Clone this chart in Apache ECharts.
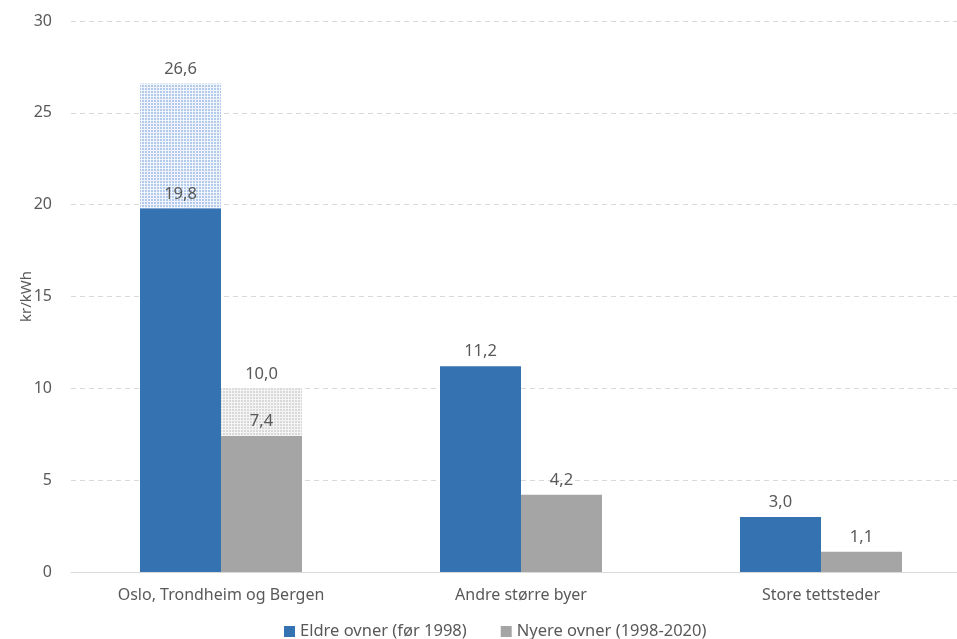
<!DOCTYPE html>
<html><head><meta charset="utf-8">
<script src="https://cdn.jsdelivr.net/npm/echarts@6/dist/echarts.min.js"></script>
<style>html,body{margin:0;padding:0;background:#fff}#c{width:957px;height:639px}</style>
</head><body><div id="c"></div>
<script>
const categories = ['Oslo, Trondheim og Bergen', 'Andre større byer', 'Store tettsteder'];
const eldreSolid = [19.8, 11.2, 3.0];
const eldreTotal = [26.6, null, null];
const nyereSolid = [7.4, 4.2, 1.1];
const nyereTotal = [10.0, null, null];
const yTicks = [0, 5, 10, 15, 20, 25, 30];
const seriesNames = ['Eldre ovner (før 1998)', 'Nyere ovner (1998-2020)'];

function pattern(bg, dot) {
  const c = document.createElement('canvas');
  c.width = 3; c.height = 3;
  const g = c.getContext('2d');
  g.fillStyle = bg; g.fillRect(0, 0, 3, 3);
  g.fillStyle = dot;
  g.fillRect(0, 0, 1, 3);
  g.fillRect(0, 0, 3, 1);
  return {image: c, repeat: 'repeat'};
}
const fmt = v => (v == null ? '' : Number(v).toFixed(1).replace('.', ','));
const font = 'Noto Sans';
const txt = '#595959';
const blue = '#3572B2';
const gray = '#A5A5A5';

const eldreHatch = eldreTotal.map((t, i) => t == null ? null : +(t - eldreSolid[i]).toFixed(2));
const nyereHatch = nyereTotal.map((t, i) => t == null ? null : +(t - nyereSolid[i]).toFixed(2));

const chart = echarts.init(document.getElementById('c'), null, {renderer: 'canvas'});
const labelStyle = {show: true, position: 'top', color: txt, fontFamily: font, fontSize: 16.5, distance: 6};
chart.setOption({
  animation: false,
  textStyle: {fontFamily: font},
  grid: {left: 71, top: 21, width: 900, height: 551, containLabel: false, outerBoundsMode: 'none'},
  legend: {
    bottom: -6, left: 279, itemWidth: 11, itemHeight: 11, itemGap: 34,
    icon: 'rect', data: seriesNames,
    textStyle: {color: txt, fontSize: 16.5, fontFamily: font}
  },
  xAxis: {
    type: 'category', data: categories,
    axisLine: {lineStyle: {color: '#d9d9d9', width: 1}},
    axisTick: {show: false},
    axisLabel: {color: txt, fontSize: 16, fontFamily: font, margin: 15}
  },
  yAxis: {
    type: 'value', min: yTicks[0], max: yTicks[yTicks.length - 1], interval: 5,
    name: 'kr/kWh', nameLocation: 'middle', nameGap: 37, nameMoveOverlap: false,
    nameTextStyle: {color: txt, fontSize: 15, fontFamily: font},
    axisLine: {show: false}, axisTick: {show: false},
    axisLabel: {color: txt, fontSize: 16, fontFamily: font, margin: 19},
    splitLine: {lineStyle: {color: '#d9d9d9', type: [5, 4], width: 1}}
  },
  series: [
    {name: seriesNames[0], type: 'bar', stack: 'a', data: eldreSolid, barWidth: 81, barGap: '0%',
     itemStyle: {color: blue}, label: Object.assign({}, labelStyle, {formatter: p => fmt(p.value)})},
    {name: 'Eldre hatch', type: 'bar', stack: 'a', data: eldreHatch, barWidth: 81, barGap: '0%',
     itemStyle: {color: pattern('#b4caea', '#f0f5fb')},
     label: Object.assign({}, labelStyle, {formatter: p => fmt(eldreTotal[p.dataIndex])})},
    {name: seriesNames[1], type: 'bar', stack: 'b', data: nyereSolid, barWidth: 81, barGap: '0%',
     itemStyle: {color: gray}, label: Object.assign({}, labelStyle, {formatter: p => fmt(p.value)})},
    {name: 'Nyere hatch', type: 'bar', stack: 'b', data: nyereHatch, barWidth: 81, barGap: '0%',
     itemStyle: {color: pattern('#d9d9d9', '#f4f4f4')},
     label: Object.assign({}, labelStyle, {formatter: p => fmt(nyereTotal[p.dataIndex])})}
  ]
});
</script></body></html>
